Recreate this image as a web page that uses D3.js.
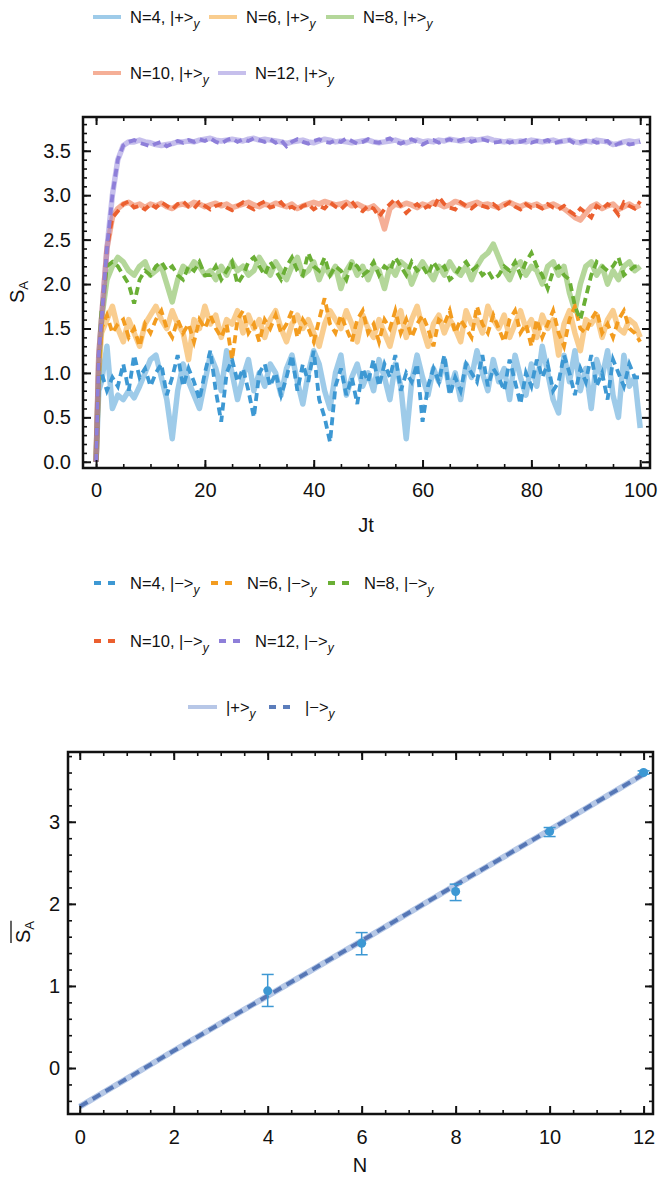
<!DOCTYPE html>
<html>
<head>
<meta charset="utf-8">
<script src="https://cdn.jsdelivr.net/npm/d3@7"></script>
<style>
  body { margin: 0; background: #fff; }
  text { font-family: "Liberation Sans", Arial, sans-serif; fill: #111; }
</style>
</head>
<body>
<script>
// ---- data ----
// time grid Jt (0, 0.5, then every unit)
const times = [0,0.5,1,2,3,4,5,6,7,8,9,10,11,12,13,14,15,16,17,18,19,20,21,22,23,24,25,26,27,28,29,30,
  31,32,33,34,35,36,37,38,39,40,41,42,43,44,45,46,47,48,49,50,51,52,53,54,55,56,57,58,59,60,
  61,62,63,64,65,66,67,68,69,70,71,72,73,74,75,76,77,78,79,80,81,82,83,84,85,86,87,88,89,90,
  91,92,93,94,95,96,97,98,99,100];

const chainSizes = [4, 6, 8, 10, 12];

// S_A(t) for initial state |+>_y
const sPlus4 = [0,0.8,
  0.9,1.3,0.6,0.75,0.7,0.8,0.72,0.85,1.0,1.15,
  1.2,0.95,0.7,0.26,0.8,1.1,0.9,0.75,0.6,0.9,
  1.2,1.05,0.8,1.25,1.0,0.7,0.95,1.15,0.8,1.0,
  0.85,1.1,1.0,0.75,1.05,1.2,0.9,0.65,1.0,1.25,
  1.1,0.8,0.6,1.0,1.2,0.75,0.95,1.1,0.85,1.0,
  0.8,1.15,0.95,0.7,1.1,0.85,0.26,0.9,1.2,0.95,
  0.75,1.05,0.9,1.15,0.8,1.0,0.7,1.1,0.95,1.25,
  1.0,0.8,1.15,0.9,1.05,0.7,1.2,0.95,0.75,1.1,
  0.85,1.3,1.0,0.7,0.55,1.2,0.9,1.25,0.8,1.05,
  0.6,1.15,0.95,1.25,0.75,0.5,1.2,0.85,0.95,0.38];
const sPlus6 = [0,1.0,
  1.45,1.6,1.75,1.5,1.35,1.6,1.45,1.3,1.55,1.65,
  1.75,1.6,1.5,1.7,1.55,1.45,1.15,1.6,1.5,1.75,
  1.55,1.65,1.4,1.6,1.55,1.7,1.45,1.65,1.5,1.6,
  1.4,1.6,1.7,1.5,1.35,1.55,1.65,1.5,1.6,1.45,
  1.3,1.55,1.7,1.6,1.5,1.7,1.55,1.35,1.65,1.5,
  1.4,1.6,1.45,1.3,1.55,1.7,1.4,1.6,1.75,1.5,
  1.3,1.55,1.65,1.45,1.6,1.5,1.35,1.7,1.55,1.6,
  1.45,1.75,1.6,1.5,1.65,1.4,1.55,1.7,1.5,1.6,
  1.4,1.65,1.5,1.6,1.2,1.55,1.7,1.45,1.25,1.6,
  1.55,1.65,1.4,1.6,1.7,1.5,1.45,1.6,1.55,1.4];
const sPlus8 = [0,1.1,
  1.6,2.05,2.2,2.3,2.25,2.15,2.1,2.2,2.25,2.1,
  2.15,2.2,2.0,1.8,2.05,2.2,2.15,2.25,2.2,2.1,
  2.15,2.05,2.2,2.1,2.25,2.15,2.2,2.1,2.15,2.3,
  2.2,2.1,2.25,2.15,2.05,2.2,2.3,2.1,2.15,2.25,
  2.05,2.2,2.1,2.2,1.95,2.15,2.25,2.1,2.2,2.05,
  2.2,2.15,1.95,2.2,2.1,2.25,2.2,2.0,2.15,2.25,
  2.15,2.05,2.2,2.1,2.25,2.15,2.1,2.2,2.05,2.2,
  2.3,2.35,2.45,2.3,2.15,2.05,2.2,2.25,2.1,2.2,
  2.15,2.0,2.2,2.25,2.1,2.2,1.9,1.7,2.0,2.2,
  2.25,2.1,2.2,2.0,2.15,2.05,2.2,2.25,2.15,2.2];
const sPlus10 = [0,1.2,
  1.6,2.4,2.75,2.85,2.9,2.92,2.88,2.9,2.86,2.9,
  2.88,2.91,2.87,2.85,2.89,2.9,2.88,2.92,2.9,2.87,
  2.89,2.91,2.88,2.9,2.86,2.88,2.9,2.92,2.89,2.87,
  2.9,2.88,2.91,2.89,2.87,2.9,2.85,2.88,2.9,2.92,
  2.9,2.93,2.91,2.89,2.9,2.92,2.88,2.9,2.87,2.85,
  2.88,2.82,2.62,2.85,2.9,2.88,2.91,2.89,2.86,2.9,
  2.88,2.92,2.9,2.87,2.89,2.93,2.91,2.88,2.9,2.92,
  2.89,2.9,2.88,2.86,2.9,2.92,2.89,2.87,2.9,2.88,
  2.9,2.86,2.88,2.9,2.87,2.85,2.8,2.75,2.72,2.8,
  2.87,2.9,2.85,2.88,2.9,2.84,2.87,2.9,2.86,2.89];
const sPlus12 = [0,1.2,
  1.6,2.4,3.0,3.4,3.56,3.6,3.6,3.62,3.6,3.59,
  3.57,3.56,3.57,3.58,3.6,3.6,3.61,3.6,3.62,3.63,
  3.64,3.62,3.61,3.62,3.63,3.62,3.61,3.63,3.64,3.62,
  3.63,3.62,3.61,3.6,3.58,3.6,3.61,3.62,3.6,3.59,
  3.61,3.63,3.62,3.6,3.61,3.6,3.59,3.6,3.61,3.62,
  3.6,3.59,3.6,3.61,3.62,3.6,3.59,3.61,3.62,3.6,
  3.61,3.6,3.62,3.61,3.63,3.62,3.61,3.62,3.63,3.62,
  3.63,3.64,3.62,3.61,3.6,3.61,3.6,3.61,3.6,3.62,
  3.61,3.6,3.61,3.62,3.6,3.61,3.62,3.6,3.59,3.61,
  3.6,3.62,3.61,3.6,3.57,3.58,3.6,3.61,3.6,3.61];

// S_A(t) for initial state |->_y
const sMinus4 = [0,0.9,
  1.0,0.8,0.95,0.85,1.1,0.8,1.2,0.95,1.05,0.85,
  1.0,1.1,0.75,0.95,1.2,0.85,1.05,0.9,0.7,1.0,
  1.25,0.8,0.45,1.0,1.15,0.9,1.05,0.8,0.5,1.0,
  1.1,0.85,1.0,0.75,0.95,1.2,0.8,1.1,0.9,1.25,
  0.7,0.5,0.22,0.85,1.05,0.75,0.95,0.65,1.05,0.9,
  1.15,0.85,1.1,0.95,1.2,0.8,1.0,0.9,1.1,0.45,
  0.85,1.05,0.9,1.2,0.75,0.95,0.8,1.1,1.0,0.9,
  1.2,0.85,1.05,0.95,0.8,1.15,0.9,0.65,1.0,0.85,
  1.15,0.95,1.1,0.8,0.9,1.2,1.0,0.75,1.05,0.9,
  1.2,0.85,1.0,0.7,1.15,1.0,0.85,1.1,0.95,0.95];
const sMinus6 = [0,1.0,
  1.5,1.65,1.45,1.55,1.6,1.4,1.5,1.3,1.55,1.45,
  1.6,1.7,1.5,1.4,1.6,1.45,1.55,1.35,1.6,1.5,
  1.65,1.5,1.4,1.55,1.15,1.6,1.7,1.45,1.55,1.35,
  1.6,1.5,1.65,1.45,1.55,1.7,1.4,1.6,1.5,1.35,
  1.6,1.84,1.55,1.45,1.65,1.5,1.35,1.6,1.7,1.45,
  1.55,1.35,1.6,1.5,1.7,1.45,1.6,1.4,1.55,1.65,
  1.5,1.3,1.6,1.55,1.7,1.45,1.6,1.5,1.4,1.75,
  1.55,1.45,1.65,1.5,1.35,1.6,1.7,1.45,1.55,1.3,
  1.6,1.4,1.55,1.7,1.45,1.3,1.6,1.75,1.5,1.45,
  1.6,1.7,1.45,1.55,1.4,1.6,1.7,1.5,1.45,1.35];
const sMinus8 = [0,1.1,
  1.7,2.2,2.25,2.2,2.1,2.0,1.78,2.05,2.15,2.1,
  2.2,2.25,2.15,2.2,2.1,2.05,2.2,2.15,2.25,2.1,
  2.1,2.2,2.05,2.15,2.25,2.0,2.1,2.25,2.3,2.2,
  2.1,2.25,2.15,2.05,2.2,2.3,2.15,2.1,2.35,2.2,
  2.15,2.3,2.1,2.2,2.15,2.05,2.25,2.2,2.1,2.15,
  2.25,2.1,2.2,2.15,2.3,2.2,2.1,2.25,2.15,2.2,
  2.1,2.25,2.15,2.2,2.05,2.1,2.2,2.25,2.15,2.2,
  2.1,2.15,2.05,2.1,2.2,2.15,2.25,2.1,2.25,2.35,
  2.2,2.1,1.95,2.15,2.2,2.1,2.05,1.75,1.6,1.85,
  2.1,2.25,2.2,2.15,2.2,2.3,2.1,2.15,2.2,2.2];
const sMinus10 = [0,1.2,
  1.6,2.4,2.75,2.82,2.9,2.93,2.86,2.88,2.84,2.9,
  2.86,2.92,2.88,2.84,2.9,2.93,2.87,2.85,2.92,2.88,
  2.84,2.88,2.9,2.86,2.83,2.88,2.92,2.87,2.84,2.9,
  2.93,2.86,2.88,2.92,2.85,2.87,2.83,2.88,2.9,2.84,
  2.88,2.85,2.92,2.87,2.84,2.9,2.93,2.85,2.82,2.88,
  2.85,2.76,2.84,2.9,2.96,2.88,2.8,2.86,2.9,2.84,
  2.88,2.85,2.98,2.9,2.86,2.84,2.92,2.88,2.85,2.9,
  2.88,2.86,2.9,2.85,2.88,2.92,2.87,2.84,2.9,2.86,
  2.88,2.85,2.9,2.86,2.84,2.88,2.82,2.78,2.85,2.8,
  2.75,2.88,2.84,2.9,2.86,2.78,2.92,2.88,2.85,2.93];
const sMinus12 = [0,1.2,
  1.6,2.4,3.0,3.4,3.56,3.6,3.62,3.59,3.57,3.55,
  3.58,3.6,3.55,3.58,3.61,3.59,3.62,3.6,3.63,3.61,
  3.64,3.6,3.58,3.62,3.64,3.6,3.63,3.61,3.64,3.62,
  3.6,3.63,3.59,3.62,3.55,3.6,3.63,3.6,3.58,3.61,
  3.63,3.6,3.59,3.62,3.6,3.64,3.61,3.58,3.6,3.63,
  3.6,3.59,3.62,3.64,3.6,3.58,3.61,3.63,3.6,3.57,
  3.6,3.62,3.59,3.61,3.63,3.6,3.62,3.64,3.6,3.62,
  3.63,3.61,3.59,3.6,3.62,3.59,3.61,3.6,3.62,3.59,
  3.61,3.6,3.62,3.58,3.6,3.61,3.62,3.58,3.6,3.61,
  3.62,3.59,3.6,3.61,3.55,3.58,3.6,3.57,3.58,3.6];

// time-averaged entropy vs N with error bars
const avgN = [4, 6, 8, 10, 12];
const avgS = [0.94, 1.52, 2.15, 2.88, 3.60];
const avgHi = [1.14, 1.65, 2.24, 2.93, 3.62];
const avgLo = [0.75, 1.38, 2.04, 2.82, 3.58];

// fitted lines
const fitN = [0, 2, 4, 6, 8, 10, 12];
const fitPlus = [-0.47, 0.21, 0.88, 1.55, 2.23, 2.90, 3.58];
const fitMinus = [-0.47, 0.21, 0.88, 1.55, 2.23, 2.90, 3.58];

// tick labels
const topXTicks = [0, 20, 40, 60, 80, 100];
const topYTicks = [0, 0.5, 1.0, 1.5, 2.0, 2.5, 3.0, 3.5];
const botXTicks = [0, 2, 4, 6, 8, 10, 12];
const botYTicks = [0, 1, 2, 3];

const colors = ["#3d98d3", "#f39c1f", "#6aaf35", "#eb5f2f", "#8e7fd9"];
const plusSeries = [sPlus4, sPlus6, sPlus8, sPlus10, sPlus12];
const minusSeries = [sMinus4, sMinus6, sMinus8, sMinus10, sMinus12];

// ---- svg ----
const svgWidth = 668;
const svgHeight = 1182;

const svg = d3.select("body")
  .append("svg")
  .attr("width", svgWidth)
  .attr("height", svgHeight);

// draws a Mathematica style frame with inward ticks on every side
function drawFrame(x, y, opt) {
  const g = svg.append("g");
  const [x0, x1] = x.range();
  const [y0, y1] = y.range();

  const axes = [
    {ax: d3.axisBottom, sc: x, t: `translate(0,${y0})`, labels: true, major: opt.xMajor, minor: opt.xMinor, pad: opt.xPad},
    {ax: d3.axisTop, sc: x, t: `translate(0,${y1})`, labels: false, major: opt.xMajor, minor: opt.xMinor},
    {ax: d3.axisLeft, sc: y, t: `translate(${x0},0)`, labels: true, major: opt.yMajor, minor: opt.yMinor, pad: opt.yPad},
    {ax: d3.axisRight, sc: y, t: `translate(${x1},0)`, labels: false, major: opt.yMajor, minor: opt.yMinor}
  ];

  axes.forEach(a => {
    const minor = g.append("g").attr("transform", a.t)
      .call(a.ax(a.sc).tickValues(a.minor).tickSize(-4).tickFormat(""));
    minor.select(".domain").remove();
    minor.selectAll("line").attr("stroke-width", 1.6).attr("stroke", "#111");

    const major = g.append("g").attr("transform", a.t)
      .call(a.ax(a.sc).tickValues(a.major).tickSize(-8)
        .tickPadding(a.pad || 0)
        .tickFormat(a.labels ? opt.fmt(a.sc === x) : ""));
    major.select(".domain").remove();
    major.selectAll("line").attr("stroke-width", 2).attr("stroke", "#111");
    major.selectAll("text")
      .attr("font-size", 20)
      .attr("font-family", "Liberation Sans, Arial, sans-serif")
      .attr("fill", "#111");
  });

  g.append("rect")
    .attr("x", x0).attr("y", y1)
    .attr("width", x1 - x0).attr("height", y0 - y1)
    .attr("fill", "none")
    .attr("stroke", "#111")
    .attr("stroke-width", 2.5);
}

// ---- top chart: S_A vs Jt ----
const xTop = d3.scaleLinear().domain([-2.4, 101.8]).range([83, 650]);
const yTop = d3.scaleLinear().domain([-0.07, 3.88]).range([468, 117]);

const plotTop = svg.append("g");
plotTop.append("clipPath").attr("id", "clipTop")
  .append("rect").attr("x", 83).attr("y", 117).attr("width", 567).attr("height", 351);

const lineTop = d3.line()
  .x((d, i) => xTop(times[i]))
  .y(d => yTop(d));

const curves = plotTop.append("g").attr("clip-path", "url(#clipTop)");

plusSeries.forEach((s, i) => {
  curves.append("path")
    .datum(s)
    .attr("d", lineTop)
    .attr("fill", "none")
    .attr("stroke", colors[i])
    .attr("stroke-opacity", 0.5)
    .attr("stroke-width", 5.5)
    .attr("stroke-linejoin", "round");
});

minusSeries.forEach((s, i) => {
  curves.append("path")
    .datum(s)
    .attr("d", lineTop)
    .attr("fill", "none")
    .attr("stroke", colors[i])
    .attr("stroke-width", 3.8)
    .attr("stroke-dasharray", "8,5");
});

drawFrame(xTop, yTop, {
  xMajor: topXTicks,
  xMinor: d3.range(0, 101, 5),
  yMajor: topYTicks,
  yMinor: d3.range(0, 38.5, 1).map(v => v / 10),
  xPad: 15,
  yPad: 12,
  fmt: isX => isX ? d3.format("d") : d3.format(".1f")
});

svg.append("text")
  .attr("x", 366).attr("y", 532)
  .attr("text-anchor", "middle")
  .attr("font-size", 20)
  .text("Jt");

const yLabTop = svg.append("text")
  .attr("transform", "translate(24,292) rotate(-90)")
  .attr("text-anchor", "middle")
  .attr("font-size", 20);
yLabTop.append("tspan").text("S");
yLabTop.append("tspan").attr("font-size", 13).attr("dy", 4).text("A");

// ---- legends ----
function legendItem(x, y, color, dashed, label, swatchLen, textGap) {
  const g = svg.append("g");
  g.append("line")
    .attr("x1", x).attr("x2", x + swatchLen)
    .attr("y1", y).attr("y2", y)
    .attr("stroke", color)
    .attr("stroke-opacity", dashed ? 1 : 0.5)
    .attr("stroke-width", 4)
    .attr("stroke-dasharray", dashed ? "7,7" : null);
  const t = g.append("text")
    .attr("x", x + swatchLen + textGap)
    .attr("y", y + 5.5)
    .attr("font-size", 16.5);
  t.append("tspan").text(label);
  t.append("tspan").attr("font-size", 12).attr("font-style", "italic").attr("dy", 5).text("y");
}

const legendPos = [[93, 17], [209, 17], [326, 17], [93, 73], [218, 73]];
chainSizes.forEach((n, i) => {
  legendItem(legendPos[i][0], legendPos[i][1], colors[i], false, `N=${n}, |+>`, 28, 9);
});

const legendPos2 = [[94, 583], [211, 583], [328, 583], [94, 641], [219, 641]];
chainSizes.forEach((n, i) => {
  legendItem(legendPos2[i][0], legendPos2[i][1], colors[i], true, `N=${n}, |\u2212>`, 21, 15);
});

legendItem(188, 707, "#6f8fd0", false, "|+>", 29, 9);
legendItem(269, 707, "#5b7dbb", true, "|\u2212>", 21, 15);

// ---- bottom chart: time averaged S_A vs N ----
const xBot = d3.scaleLinear().domain([-0.25, 12.2]).range([68, 653]);
const yBot = d3.scaleLinear().domain([-0.56, 3.85]).range([1114, 752]);

const lineBot = d3.line()
  .x((d, i) => xBot(fitN[i]))
  .y(d => yBot(d));

svg.append("path")
  .datum(fitPlus)
  .attr("d", lineBot)
  .attr("fill", "none")
  .attr("stroke", "#b6c8e6")
  .attr("stroke-width", 6);

svg.append("path")
  .datum(fitMinus)
  .attr("d", lineBot)
  .attr("fill", "none")
  .attr("stroke", "#5677b6")
  .attr("stroke-width", 4)
  .attr("stroke-dasharray", "9,6");

const bars = svg.append("g").attr("stroke", "#3d98d3").attr("stroke-width", 1.5);
avgN.forEach((n, i) => {
  const cx = xBot(n);
  bars.append("line").attr("x1", cx).attr("x2", cx).attr("y1", yBot(avgLo[i])).attr("y2", yBot(avgHi[i]));
  bars.append("line").attr("x1", cx - 6).attr("x2", cx + 6).attr("y1", yBot(avgLo[i])).attr("y2", yBot(avgLo[i]));
  bars.append("line").attr("x1", cx - 6).attr("x2", cx + 6).attr("y1", yBot(avgHi[i])).attr("y2", yBot(avgHi[i]));
});
svg.append("g").selectAll("circle")
  .data(avgS)
  .enter()
  .append("circle")
  .attr("cx", (d, i) => xBot(avgN[i]))
  .attr("cy", d => yBot(d))
  .attr("r", 4.5)
  .attr("fill", "#3d98d3");

drawFrame(xBot, yBot, {
  xMajor: botXTicks,
  xMinor: d3.range(0, 12.01, 0.5),
  yMajor: botYTicks,
  yMinor: d3.range(-2, 19.5, 1).map(v => v / 5),
  xPad: 16,
  yPad: 8,
  fmt: () => d3.format("d")
});

svg.append("text")
  .attr("x", 360).attr("y", 1172)
  .attr("text-anchor", "middle")
  .attr("font-size", 20)
  .text("N");

// y label with a bar over it
const yLabBotG = svg.append("g").attr("transform", "translate(30,932) rotate(-90)");
const yLabBot = yLabBotG.append("text")
  .attr("text-anchor", "middle")
  .attr("font-size", 20);
yLabBot.append("tspan").text("S");
yLabBot.append("tspan").attr("font-size", 13).attr("dy", 4).text("A");
const bb = yLabBot.node().getBBox();
yLabBotG.append("line")
  .attr("x1", bb.x).attr("x2", bb.x + bb.width)
  .attr("y1", -19).attr("y2", -19)
  .attr("stroke", "#111")
  .attr("stroke-width", 1.3);
</script>
</body>
</html>
